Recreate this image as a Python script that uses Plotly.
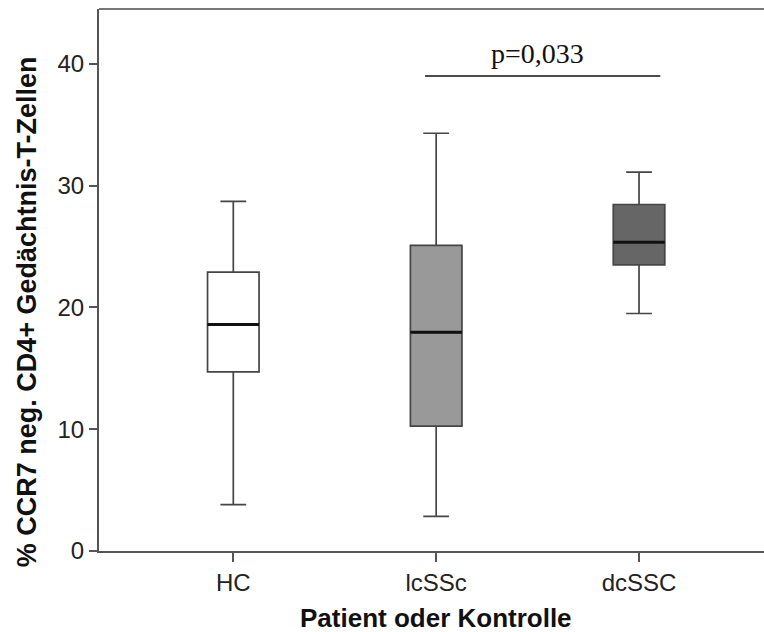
import plotly.graph_objects as go

categories = ["HC", "lcSSc", "dcSSC"]
lower_whisker = [3.8, 2.85, 19.5]
q1 = [14.7, 10.25, 23.5]
median = [18.6, 17.95, 25.35]
q3 = [22.9, 25.1, 28.45]
upper_whisker = [28.7, 34.3, 31.1]
fills = ["#ffffff", "#999999", "#666666"]

y_ticks = [0, 10, 20, 30, 40]
p_text = "p=0,033"
p_y = 39.0
p_from, p_to = 0.945, 2.105

fig = go.Figure()
for i, cat in enumerate(categories):
    fig.add_trace(go.Box(
        x=[i], q1=[q1[i]], median=[median[i]], q3=[q3[i]],
        lowerfence=[lower_whisker[i]], upperfence=[upper_whisker[i]],
        fillcolor=fills[i], line=dict(color="#454545", width=1.7),
        width=0.254, whiskerwidth=0.5, boxpoints=False, showlegend=False,
        hoverinfo="skip",
    ))
    fig.add_shape(type="line", x0=i - 0.127, x1=i + 0.127, y0=median[i], y1=median[i],
                  line=dict(color="#111111", width=3), layer="above")

# significance bracket
fig.add_shape(type="line", x0=p_from, x1=p_to, y0=p_y, y1=p_y,
              line=dict(color="#111111", width=1.3))
fig.add_annotation(x=1.5, y=p_y, text=p_text, showarrow=False, yanchor="bottom", yshift=5,
                   font=dict(family="Liberation Serif, Times New Roman, serif", size=28, color="#111111"))

# top frame line
fig.add_shape(type="line", xref="paper", yref="paper", x0=0, x1=1, y0=1, y1=1,
              line=dict(color="#777777", width=2))

# y-axis title
fig.add_annotation(xref="paper", yref="y", x=0, xshift=-72, xanchor="center", yanchor="middle",
                   y=19.6, textangle=-90,
                   text="% CCR7 neg. CD4+ Gedächtnis-T-Zellen", showarrow=False,
                   font=dict(family="Liberation Sans, Arial, sans-serif", size=27, color="#111111", weight="bold"))

# x-axis title
fig.add_annotation(xref="x", yref="paper", x=1.0, y=0, yshift=-67, yanchor="middle",
                   text="<b>Patient oder Kontrolle</b>", showarrow=False,
                   font=dict(family="Liberation Sans, Arial, sans-serif", size=26, color="#111111"))

fig.update_layout(
    width=764, height=632,
    margin=dict(l=99, r=0, t=9, b=81),
    paper_bgcolor="white", plot_bgcolor="white",
    font=dict(family="Liberation Sans, Arial, sans-serif", color="#222222"),
    xaxis=dict(
        tickmode="array", tickvals=[0, 1, 2], ticktext=categories,
        range=[-0.662, 2.616], showgrid=False, zeroline=False,
        showline=True, linecolor="#555555", linewidth=2,
        ticks="outside", ticklen=9, tickwidth=2, tickcolor="#555555",
        tickfont=dict(size=24, color="#222222"),
    ),
    yaxis=dict(
        range=[0, 44.5], tickvals=y_ticks, showgrid=False, zeroline=False,
        showline=True, linecolor="#555555", linewidth=2,
        ticks="outside", ticklen=8, tickwidth=2, tickcolor="#555555",
        tickfont=dict(size=24, color="#222222"),
    ),
)

fig.write_html("out.html", config={"displayModeBar": False},
               post_script="document.body.style.margin='0';document.body.style.overflow='hidden';")
